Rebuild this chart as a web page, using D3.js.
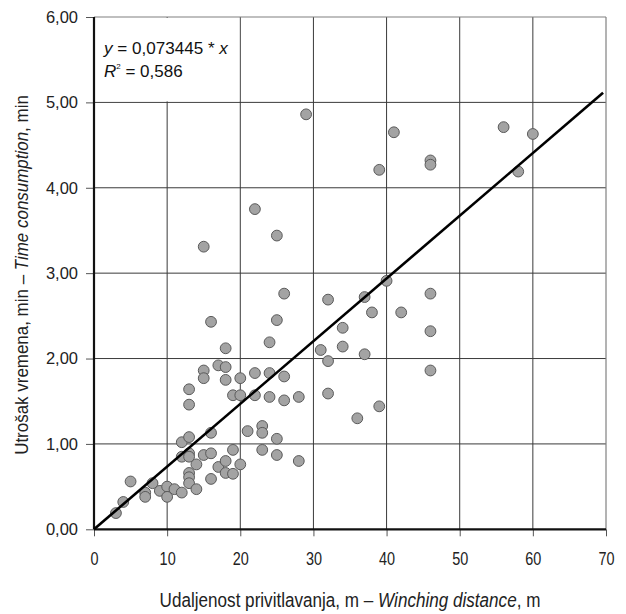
<!DOCTYPE html>
<html><head><meta charset="utf-8">
<script src="https://cdn.jsdelivr.net/npm/d3@7"></script>
<style>
html,body{margin:0;padding:0;background:#fff;}
text{font-family:"Liberation Sans",Arial,sans-serif;}
</style></head><body>
<svg id="chart" width="626" height="614"></svg>
<script>
const xValues = [3,4,5,7,7,8,9,10,10,11,12,12,12,13,13,13,13,13,13,13,13,14,14,15,15,15,15,16,16,16,16,17,17,18,18,18,18,18,19,19,19,20,20,20,21,22,22,22,23,23,23,24,24,24,25,25,25,25,26,26,26,28,28,29,31,32,32,32,34,34,36,37,37,38,39,39,40,41,42,46,46,46,46,46,56,58,60];
const yValues = [0.19,0.32,0.56,0.43,0.38,0.54,0.45,0.50,0.38,0.47,0.43,1.02,0.85,1.08,0.89,0.85,0.66,0.61,0.54,1.64,1.46,0.76,0.47,0.87,1.86,1.77,3.31,0.89,1.13,0.59,2.43,0.73,1.92,0.80,0.66,1.90,1.75,2.12,0.93,0.65,1.57,0.76,1.57,1.77,1.15,1.83,1.57,3.75,1.21,1.13,0.93,1.83,1.55,2.19,1.06,0.87,2.45,3.44,1.79,1.51,2.76,1.55,0.80,4.86,2.10,2.69,1.97,1.59,2.36,2.14,1.30,2.72,2.05,2.54,1.44,4.21,2.91,4.65,2.54,4.32,4.27,2.76,2.32,1.86,4.71,4.19,4.63];
const xTicks = [0,10,20,30,40,50,60,70];
const yTicks = [0,1,2,3,4,5,6];
const slope = 0.073445;
const fitRange = [0, 69.6];
const eqLine1 = "= 0,073445 * ";
const eqLine2 = "= 0,586";
const xTitleA = "Udaljenost privitlavanja, m – ";
const xTitleB = "Winching distance";
const xTitleC = ", m";
const yTitleA = "Utrošak vremena, min – ";
const yTitleB = "Time consumption";
const yTitleC = ", min";

const svg = d3.select("#chart");
const x = d3.scaleLinear().domain([0,70]).range([94,606]);
const y = d3.scaleLinear().domain([0,6]).range([529.3,17]);
const fmt = d => d.toFixed(2).replace(".", ",");

// grid
const g = svg.append("g");
g.selectAll(".vg").data(xTicks.slice(1,-1)).join("line")
  .attr("x1", d=>x(d)).attr("x2", d=>x(d)).attr("y1", y(0)).attr("y2", y(6))
  .attr("stroke", "#3a3a3a").attr("stroke-width", 1);
g.selectAll(".hg").data(yTicks.slice(1,-1)).join("line")
  .attr("x1", x(0)).attr("x2", x(70)).attr("y1", d=>y(d)).attr("y2", d=>y(d))
  .attr("stroke", "#3a3a3a").attr("stroke-width", 1);
g.append("line").attr("x1", x(0)).attr("x2", x(70)).attr("y1", y(6)).attr("y2", y(6)).attr("stroke", "#808080").attr("stroke-width", 1.2);
g.append("line").attr("x1", x(70)).attr("x2", x(70)).attr("y1", y(0)).attr("y2", y(6)).attr("stroke", "#808080").attr("stroke-width", 1.2);

// annotation box (hides grid under text)
svg.append("rect").attr("x", x(0)+1).attr("y", y(6)+1)
  .attr("width", x(20)-x(0)-2).attr("height", y(5)-y(6)-2).attr("fill", "#fff");

// axes
const xAxis = d3.axisBottom(x).tickValues(xTicks).tickSize(7).tickPadding(6).tickFormat(d3.format("d"));
const yAxis = d3.axisLeft(y).tickValues(yTicks).tickSize(8).tickPadding(8).tickFormat(fmt);
const gx = svg.append("g").attr("transform", `translate(0,${y(0)})`).call(xAxis);
const gy = svg.append("g").attr("transform", `translate(${x(0)},0)`).call(yAxis);
[gx, gy].forEach(a => {
  a.select(".domain").remove();
  a.selectAll(".tick line").attr("stroke", "#555").attr("stroke-width", 1);
  a.selectAll("text").attr("fill", "#222").attr("font-family", '"Liberation Sans",Arial,sans-serif');
});
gy.selectAll("text").attr("font-size", 16.5);
const sx = 0.78;
gx.selectAll(".tick text").attr("font-size", 18.5).attr("dy", null)
  .attr("y", 0).attr("transform", `translate(0,36) scale(${sx},1)`);

svg.append("line").attr("x1", x(0)).attr("x2", x(70)).attr("y1", y(0)).attr("y2", y(0)).attr("stroke", "#111").attr("stroke-width", 2.2);
svg.append("line").attr("x1", x(0)).attr("x2", x(0)).attr("y1", y(0)).attr("y2", y(6)).attr("stroke", "#111").attr("stroke-width", 2.2);

// points
const pts = xValues.map((v,i)=>({x:v, y:yValues[i]}));
svg.append("g").selectAll("circle").data(pts).join("circle")
  .attr("cx", d=>x(d.x)).attr("cy", d=>y(d.y)).attr("r", 5.4)
  .attr("fill", "#a3a3a3").attr("stroke", "#5a5a5a").attr("stroke-width", 1);

// fit line
svg.append("line")
  .attr("x1", x(fitRange[0])).attr("y1", y(slope*fitRange[0]))
  .attr("x2", x(fitRange[1])).attr("y2", y(slope*fitRange[1]))
  .attr("stroke", "#000").attr("stroke-width", 2.6);

// helper: scale text horizontally to a target width
function fitWidth(sel, tx, ty, target, rot) {
  const w = sel.node().getComputedTextLength();
  const s = target / w;
  sel.attr("transform", `translate(${tx},${ty})${rot ? " rotate(-90)" : ""} scale(${s},1)`);
}

// equation
const eq = svg.append("text").attr("font-size", 17).attr("fill", "#111");
eq.append("tspan").attr("font-style", "italic").text("y");
eq.append("tspan").text(" " + eqLine1);
eq.append("tspan").attr("font-style", "italic").text("x");
fitWidth(eq, 104, 54, 124, false);
const r2 = svg.append("text").attr("x", 104).attr("y", 77).attr("font-size", 17).attr("fill", "#111");
r2.append("tspan").attr("font-style", "italic").text("R");
r2.append("tspan").attr("font-size", 8).attr("dy", -8).text("2");
r2.append("tspan").attr("dy", 8).text(" " + eqLine2);

// axis titles
const xt = svg.append("text").attr("text-anchor", "middle").attr("font-size", 19.5).attr("fill", "#222");
xt.append("tspan").text(xTitleA);
xt.append("tspan").attr("font-style", "italic").text(xTitleB);
xt.append("tspan").text(xTitleC);
fitWidth(xt, 350, 607, 381, false);
const yt = svg.append("text").attr("text-anchor", "middle").attr("font-size", 17.5).attr("fill", "#222");
yt.append("tspan").text(yTitleA);
yt.append("tspan").attr("font-style", "italic").text(yTitleB);
yt.append("tspan").text(yTitleC);
fitWidth(yt, 28, 275, 360, true);
</script>
</body></html>
